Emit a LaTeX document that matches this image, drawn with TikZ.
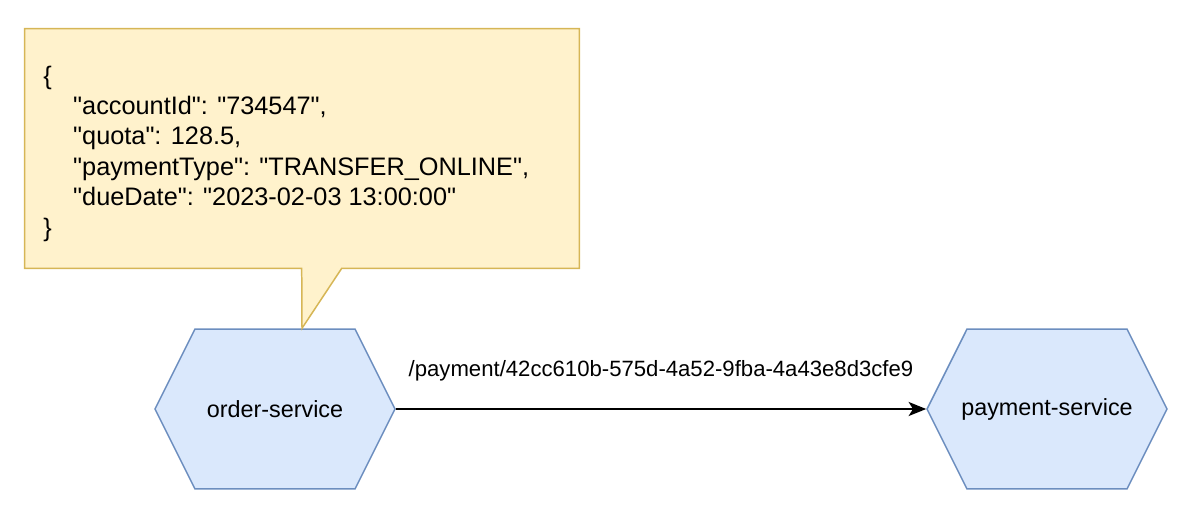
\documentclass[tikz,border=0pt]{standalone}
\usepackage{fontspec}
\setmainfont{Liberation Sans}[Ligatures=TeXOff]
\usetikzlibrary{calc,positioning,shapes.symbols,arrows.meta}
\definecolor{notefill}{HTML}{FFF2CC}
\definecolor{noteline}{HTML}{D6B656}
\definecolor{svcfill}{HTML}{DAE8FC}
\definecolor{svcline}{HTML}{6C8EBF}
\newcommand\diagfont{\fontsize{13.3}{16.1}\selectfont}
\newcommand\jsonfont{\fontsize{14.4}{17.35}\selectfont}
\newcommand\routefont{\fontsize{12.6}{15.1}\selectfont}
\newcommand\svctext[1]{\makebox[3cm]{#1}}
\tikzset{
   service/.style={signal, signal to=east and west, signal pointer angle=126.87, draw=svcline, fill=svcfill, line width=0.85pt, minimum width=4.8cm, minimum height=3.2cm, inner sep=0pt, text centered, font=\diagfont},
   note box/.style={rectangle, minimum width=11.08cm, minimum height=4.78cm, inner sep=0pt},
   note line/.style={draw=noteline, fill=notefill, line width=0.85pt},
   json text/.style={inner sep=0pt, font=\jsonfont},
   route label/.style={font=\routefont},
   >={Stealth[length=10pt,width=8pt,inset=2.5pt]}
}

\begin{document}
\begin{tikzpicture}[x=0.02cm,y=-0.02cm]
  \useasboundingbox (0,0) rectangle (1186,528);

  \node[service] at (275,409)  (order)   {\svctext{order-service}};
  \node[service] at (1047,409) (payment) {\svctext{payment-service}};

  %%%%%%%%%%%

  \node[note box] at (302,148.5) (note) {};
  \coordinate (note tip) at ($(order.north)+(27,0)$);
  \draw[note line] (note.south west) -- (note.north west) -- (note.north east) -- (note.south east)
     -- ($(note.south west)+(317,0)$) -- (note tip) -- ($(note.south west)+(277,0)$) -- cycle;

  \node[json text, anchor=base west] at (43,84) (payload) {\jsonfont\begin{tabular}[t]{@{}l@{}}
    \{\\
    \hspace*{17pt}"accountId": "734547",\\
    \hspace*{17pt}"quota": 128.5,\\
    \hspace*{17pt}"paymentType": "TRANSFER\_ONLINE",\\
    \hspace*{17pt}"dueDate": "2023-02-03 13:00:00"\\
    \}
  \end{tabular}};

  %%%%%%%%%%%

  \draw[->, line width=1pt] (order) -- node[route label, above=12pt] (route) {/payment/42cc610b-575d-4a52-9fba-4a43e8d3cfe9} (payment);

\end{tikzpicture}
\end{document}
